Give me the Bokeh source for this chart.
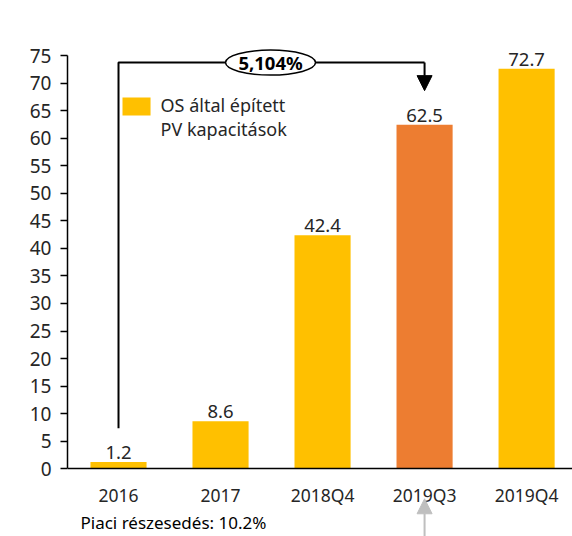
from bokeh.plotting import figure
from bokeh.models import Range1d, FixedTicker, Label, Arrow, NormalHead, BoxAnnotation, ColumnDataSource
from bokeh.core.properties import value
from bokeh.embed import file_html
from bokeh.resources import INLINE

# ---- data ----
categories = ["2016", "2017", "2018Q4", "2019Q3", "2019Q4"]
capacities = [1.2, 8.6, 42.4, 62.5, 72.7]
highlight = [False, False, False, True, False]
value_labels = ["1.2", "8.6", "42.4", "62.5", "72.7"]
y_ticks = list(range(0, 80, 5))
legend_lines = ["OS által épített", "PV kapacitások"]
growth_label = "5,104%"
growth_from = 0   # index of 2016
growth_to = 3     # index of 2019Q3
share_label = "Piaci részesedés: 10.2%"

YELLOW = "#FFC000"
ORANGE = "#ED7D31"
TXT = "#262626"
FONT = "Noto Sans"

idx = list(range(len(categories)))
colors = [ORANGE if h else YELLOW for h in highlight]
src = ColumnDataSource(dict(x=idx, top=capacities, color=colors, lab=value_labels))

p = figure(width=572, height=536, output_backend="svg", toolbar_location=None,
           x_range=Range1d(-0.5, 4.45), y_range=Range1d(-12.36, 81.45),
           min_border_left=67, min_border_right=0, min_border_top=20, min_border_bottom=0)
p.outline_line_color = None
p.xgrid.visible = False
p.ygrid.visible = False
p.background_fill_color = "white"
p.border_fill_color = "white"

p.vbar(x="x", top="top", bottom=0, width=0.55, fill_color="color", line_color=None, source=src)
p.text(x="x", y="top", text="lab", source=src, text_align="center", text_baseline="bottom",
       y_offset=-3, text_font=value(FONT), text_font_size="18.5px", text_color=TXT)

# axes
xa = p.xaxis[0]
xa.fixed_location = 0
xa.ticker = FixedTicker(ticks=idx)
xa.major_label_overrides = {i: c for i, c in zip(idx, categories)}
xa.major_tick_line_color = None
xa.minor_tick_line_color = None
xa.axis_line_color = "black"
xa.axis_line_width = 1.5
xa.major_label_text_font = FONT
xa.major_label_text_font_size = "17.5px"
xa.major_label_text_color = TXT
xa.major_label_standoff = 8

ya = p.yaxis[0]
ya.ticker = FixedTicker(ticks=y_ticks)
ya.bounds = (0, 75)
ya.major_tick_out = 7
ya.major_tick_in = 0
ya.minor_tick_line_color = None
ya.axis_line_color = "black"
ya.axis_line_width = 1.5
ya.major_tick_line_width = 1.5
ya.major_label_text_font = FONT
ya.major_label_text_font_size = "19px"
ya.major_label_text_color = TXT
ya.major_label_standoff = 9

# growth connector
top_level = 73.8
p.line(x=[growth_from, growth_from, growth_to], y=[capacities[growth_from] + 6.1, top_level, top_level],
       line_color="black", line_width=2)
p.add_layout(Arrow(x_start=growth_to, y_start=top_level, x_end=growth_to, y_end=capacities[growth_to] + 6.2,
                   line_color="black", line_width=2,
                   end=NormalHead(size=15, fill_color="black", line_color="black")))
ex = 1.49
p.ellipse(x=[ex], y=[top_level], width=90, height=25, width_units="screen", height_units="screen",
          fill_color="white", line_color="black", line_width=1.5)
p.text(x=[ex], y=[top_level], text=[growth_label], text_align="center", text_baseline="middle",
       text_font=value(FONT), text_font_style="bold", text_font_size="18.5px", text_color="black")

# legend
p.add_layout(BoxAnnotation(left=0.039, right=0.314, bottom=64.2, top=67.45,
                           fill_color=YELLOW, fill_alpha=1, line_color=None))
for i, t in enumerate(legend_lines):
    p.add_layout(Label(x=0.412, y=66.0 - i * 4.2, text=t, text_baseline="middle",
                       text_font=FONT, text_font_size="18px", text_color=TXT))

# bottom note
p.add_layout(Label(x=-0.373, y=-9.8, text=share_label, text_baseline="middle",
                   text_font=FONT, text_font_size="17px", text_color="black"))
p.add_layout(Arrow(x_start=growth_to, y_start=-13.5, x_end=growth_to, y_end=-5.5,
                   line_color="#BFBFBF", line_width=2,
                   end=NormalHead(size=15, fill_color="#BFBFBF", line_color="#BFBFBF")))

open("out.html", "w").write(file_html(p, INLINE))
